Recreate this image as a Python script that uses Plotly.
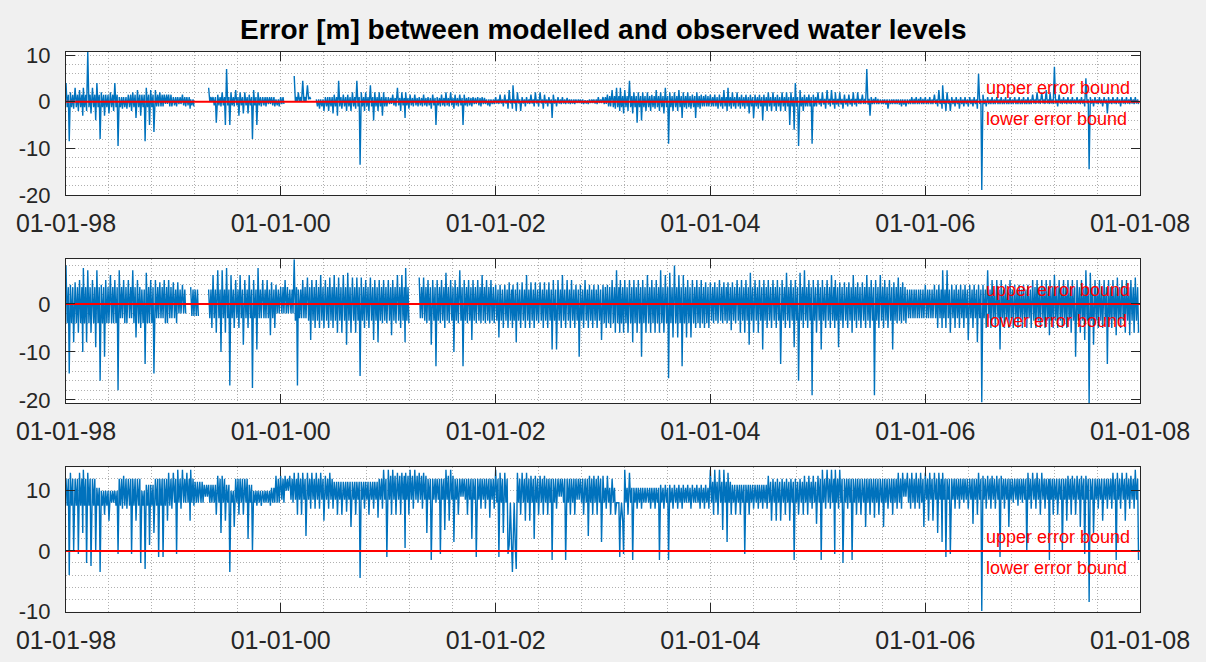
import datetime as dt
import plotly.graph_objects as go

# ---------------- data ----------------
# Each series: per half-month bin, the high and low excursion (HI / LO),
# plus per-year typical band (CORE) that the dense part of the trace fills.
YEARS = list(range(1998, 2008))

X_TICKS = ["1998-01-01", "2000-01-01", "2002-01-01", "2004-01-01", "2006-01-01", "2008-01-01"]
X_TICK_LABELS = ["01-01-98", "01-01-00", "01-01-02", "01-01-04", "01-01-06", "01-01-08"]

Y_TICKS = [-20, -10, 0, 10]
Y_TICK_LABELS = ["-20", "-10", "0", "10"]

BOUND_X = ["1998-01-01", "2008-01-01"]
BOUND_Y = [0, 0]

N = None
S1_HI = [
    4, 2, 3, 2.5, 3, 10.7, 3, 4, 2, 1.5, 2, 4, 1, 1, 1.5, 2, 2.5, 1.5, 3, 2.5, 2.5, 2, 1.5, 1.5,
    1, 1, 1.5, 1, 0.5, N, N, N, 3, 1, 1.5, 2, 7, 2, 2.5, 2, 2, 1.5, 2.5, 2, 1, 1, 1, 0.5,
    1, N, N, 5.5, 2, 4.5, 3.5, N, 0.5, 0.5, 1, 1, 1.5, 4.5, 1.5, 1.5, 2, 4.5, 2, 2, 3.5, 2, 2, 2,
    1, 1.5, 3, 2, 2, 1.5, 1.5, 1, 1.5, 1, 1.5, 1, 1.5, 2, 2, 1.5, 1.5, 1.5, 1, 1, 1, 1, 0.5, 0.5,
    1, 1.5, 1.5, 2.5, 3.5, 2, 1, 1, 1.5, 2, 2, 1.5, 1, 1.5, 1, 1, 0.8, 0.5, 0.5, 0.5, 0.3, 0.5, 0.5, 1,
    1, 1.5, 2.5, 3, 3, 2.5, 4.5, 2, 2, 2, 2, 1.5, 2.5, 2, 3, 2, 2, 2.5, 2, 2, 1.5, 2, 1.5, 1.5,
    1.5, 1.5, 1.5, 2.5, 3, 2, 2, 1.5, 1.5, 1.5, 1.5, 1.5, 1.5, 2, 2, 1.5, 2, 2, 2, 4, 2.5, 1.5, 1.5, 1.5,
    2, 2, 2.5, 2.5, 2, 2, 1.5, 1.5, 2, 2, 1.5, 7, 1, 1, 0.5, 0.5, 0.5, 0.5, 0.5, 0.5, 0.5, 1, 1, 1,
    1, 1, 1.5, 2.5, 3.5, 2, 1, 1, 1, 1, 1, 1, 6, 1.5, 1, 1, 1, 1, 1, 1, 1, 1, 1, 1,
    1.5, 2, 2, 2.5, 2, 7.5, 1.5, 1, 1, 1, 1, 1, 5, 1, 1, 1, 1, 1, 1, 1, 1, 1, 1, 1,
]
S1_LO = [
    -8.5, -1.5, -2, -3, -2, -2.5, -4, -8, -3, -2.5, -2, -9.5, -1.5, -1.5, -2, -3.5, -3, -8.5, -5, -6.5, -1, -1, -0.5, -1,
    -1, -0.5, -1, -1.5, -1, N, N, N, 0, -4.5, -1, -5, -5, -1, -3, -2.5, -2.5, -8, -5, -1, -1, -0.5, -1, -1,
    -0.5, N, N, 0, 0, 0, 0.5, N, -1.5, -2, -2, -2.5, -3, -1.5, -2, -2, -1.5, -13.5, -2, -2, -4, -2, -3, -1,
    -0.5, -1, -2, -3.5, -1.5, -1, -1, -1, -1, -1.5, -5, -1, -1, -1, -1.5, -1, -5, -1, -1, -0.5, -1, -0.5, -1, -0.5,
    -0.5, -1, -1.5, -1.5, -2, -2, -1, -0.5, -1, -1, -1.5, -1, -3.5, -1, -0.5, -0.5, -0.5, -0.5, -0.3, -0.5, -0.5, -0.3, -0.5, -0.3,
    -0.5, -1, -1.5, -2, -2.5, -2, -2.5, -4.5, -4, -2, -2, -1.5, -2, -2.5, -9, -2, -2, -3.5, -1.5, -1.5, -3.5, -1.5, -1, -1,
    -1, -1.5, -1.5, -2, -1.5, -1.5, -1.5, -1.5, -2.5, -3.5, -1.5, -4, -2, -2, -2, -2, -2, -5, -6, -9.5, -2, -1, -9, -1,
    -1, -1.5, -1, -1.5, -1, -1.5, -1, -1, -1, -0.5, -0.5, -3, -0.5, -0.5, -0.5, -1.5, -0.5, -0.5, -1, -1, -0.5, -0.5, -0.5, -0.5,
    -0.5, -0.5, -1, -1.5, -2, -2, -1, -1.5, -1, -1, -1, -1.5, -18.9, -1, -0.5, -0.5, -0.5, -0.5, -0.5, -0.5, -0.5, -0.5, -0.5, -0.5,
    -0.5, -0.5, -0.5, -0.5, -0.5, -1, -0.5, -0.5, -0.5, -0.5, -0.5, -1, -14.5, -1, -0.5, -1, -2.5, -0.5, -0.5, -1, -0.5, -0.5, -0.5, -0.5,
]
S1_CORE_HI = [1.5, 1.0, 1.0, 0.8, 0.5, 1.2, 1.0, 0.6, 0.5, 0.5]
S1_CORE_LO = [-1.2, -0.8, -1.0, -0.8, -0.4, -1.2, -1.0, -0.6, -0.5, -0.4]

S2_HI = [
    8, 4, 4.5, 5, 7.5, 7, 5, 7, 4, 5, 6, 5, 7, 5, 5, 7, 5, 3, 6.5, 5, 5, 4.5, 5, 5,
    4.5, 4.5, 4, N, 3.5, 3, N, N, 3, 6, 7, 7, 7.5, 6, 5, 6, 5, 6, 5, 7.5, 5, 5, 4.5, 4,
    3.5, 5, 3, 9.3, 3, 5, 5.5, 5, 5, 6, 5, 5.5, 6, 5.5, 6, 6.5, 5.5, 5.5, 5.5, 5, 5.5, 5, 5, 5,
    5, 5, 6, 6, 7.5, N, N, 5.5, 5.5, 5, 5, 5, 5, 6.5, 5, 5, 7, 5, 5, 5, 5, 6, 5, 5,
    4, 4, 4, 4.5, 4, 4.5, 4.5, 6, 4.5, 4.5, 4.5, 4.5, 4.5, 5, 5, 6, 5, 5, 4, 4, 5, 4, 4, 4,
    4, 4, 5, 7, 5, 5, 5, 5, 5, 5, 6, 5, 5, 7, 6, 6.5, 8, 6, 6, 5, 5, 5, 5, 4.5,
    4.5, 4.5, 5, 4.5, 4.5, 4.5, 5, 5, 5, 6.5, 5, 5, 5, 5, 5, 5, 5, 6.5, 5, 5, 6.5, 7, 5, 5,
    5, 5, 5, 6, 5, 4.5, 4.5, 4.5, 6, 4.5, 4.5, 6, 5, 5, 6, 5, 5, 4.5, 5.5, 4.5, 3, 3, 3, 3,
    4, 3, 4, 4, 7, 7, 4, 4, 4, 4, 4, 4, 4, 4, 7, 5, 5, 5, 4, 5, 4, 4, 4, 4,
    5, 5, 5, 5, 5, 6, 5, 5, 5, 5, 5, 5, 7, 6.5, 5, 5, 5, 5, 5, 5.5, 5, 5, 5, 5.5,
]
S2_LO = [
    -14.5, -8, -6, -10, -8, -6, -9, -16, -11, -4, -4, -18, -3, -4, -3, -7, -5, -12.5, -4, -14.5, -3, -3, -4, -3,
    -4, -2, -2, N, -2.5, -2.5, N, N, -5, -6, -10, -6, -17, -5, -5, -8.5, -5, -17.5, -9.5, -3, -3, -6.5, -5, -2,
    -2, -2, -2, -17, -3, -3, -7.5, -5, -5, -5, -5, -5, -6, -6, -8.5, -6, -6, -15, -5, -5, -7.5, -8, -4, -4,
    -6.5, -4, -5, -8, -4, N, N, -3, -4, -8.5, -13, -4, -5, -4, -10, -4, -13, -4, -7.5, -4, -4, -4, -4, -4,
    -7, -5, -5, -5, -8, -5, -5, -5, -5, -4, -5, -5, -9.5, -9.5, -5, -5, -5, -5, -11, -5, -5, -5, -5, -7.5,
    -5, -5, -6, -6, -6, -6, -8, -6, -11, -6, -6, -6, -6, -6, -15.5, -7, -7, -13, -7, -7, -5, -5, -5, -5,
    -4, -4, -4, -4, -5.5, -4, -6, -6, -8.5, -6, -6, -9.5, -5, -5, -5, -12.5, -5, -5, -9, -16, -5, -5, -19, -6,
    -9.5, -5, -5, -5, -9, -5, -5, -6, -5, -5, -5, -5, -19, -5, -5, -5, -9.5, -4, -4, -4, -3, -3, -3, -3,
    -3, -3, -5, -5, -5, -6, -5, -5, -5, -7.5, -5, -8, -20.5, -5, -5, -5, -9.5, -5, -5, -5, -5, -5, -5, -5,
    -5, -5, -5, -6.5, -5, -5, -5, -5, -6, -11, -6, -7.5, -21, -8.5, -5, -5, -12.5, -5, -6.5, -5, -6, -6.5, -6, -6,
]
S2_CORE_HI = [3.5, 3.0, 3.5, 3.5, 3.0, 3.5, 3.5, 3.5, 3.0, 3.5]
S2_CORE_LO = [-4.0, -3.0, -3.5, -3.5, -3.5, -4.0, -3.5, -3.5, -3.0, -3.5]

S3_HI = [
    12, 13, 12, 13, 13.5, 13, 12, 10.5, 10, 10, 10, 10, 12, 12.5, 12, 12, 12, 10, 11, 11, 12, 12, 12, 13,
    13, 13.5, 13.5, 13, 13.5, 11.5, 11.5, 11, 11, 11, 12.5, 12.5, 11, 10, 12, 12, 12, 11, 10, 10, 10, 10, 10.5, 12.5,
    12.5, 12.5, 12.5, 13, 13, 13, 13, 13, 13, 13, 12.5, 13, 11.5, 11.5, 11.5, 11.5, 11.5, 11.5, 11.5, 11.5, 11.5, 11.5, 12, 13.5,
    13.5, 13.5, 13, 13, 13, 13.5, 13.5, 13, 13, 12, 12, 12, 12, 13.5, 13.5, 12, 12, 12, 12, 12, 12, 12, 12, 12,
    13.5, 13, 13, 1, 0.5, 13, 13, 13, 12.5, 12.5, 12.5, 12.5, 12, 12, 12, 12, 12, 12, 12, 12, 12, 12.5, 12.5, 12.5,
    12.5, 12.5, 12, 8, 5, 13.5, 13, 10.5, 10.5, 10.5, 10.5, 10.5, 10.5, 11, 11, 11, 11, 11, 11, 11, 11, 11, 11, 11,
    13.5, 13.5, 13.5, 13.5, 13, 11, 11, 11, 11, 11, 11, 11, 11, 12.5, 12, 12, 12, 12, 12, 12, 12, 12.5, 12.5, 12.5,
    12.5, 13.5, 13.5, 13.5, 13.5, 13.5, 12, 12, 12, 12, 12, 12, 12, 12, 12, 12, 12, 12, 13, 13, 13, 13, 13, 13,
    13, 13, 13, 13, 13, 12, 12, 12, 12, 12, 12, 12, 13, 12.5, 12.5, 12.5, 12.5, 12.5, 12, 12, 12, 12, 12, 13,
    13, 13, 13, 12, 12, 12, 12, 12, 12.5, 12.5, 12.5, 12.5, 12.5, 12, 12, 12, 12, 12, 13, 13, 13, 13, 12.5, 13.5,
]
S3_LO = [
    -4, 0, -0.5, 3, -2, -2.5, 0, -3.5, 6, 5, 8, -0.5, 7, 7, -0.5, 5, -2, -3, 1, 3, -1, -1, 5, 7,
    -0.5, 7, 8, 5, 7.5, 8, 8, 9, 8, 6, 3, 5, -3.5, 4, 6, 6, 2, 0, 7.5, 7.5, 8, 7.5, 8, 8,
    8, 10, 8, 6, 6, 2.5, 7, 7, 7, 5, 7, 7, 6, 6, 6.5, 4, 6, -4.5, 7, 6, 7, 5.5, 7, -1,
    6, 6, 6, 0.5, 6, 7, 8, 7, 3, -1.5, 8, -0.5, 3.5, 5, 1.5, 6, 9, 6, 2, -1, 7, 7, 5.5, 7,
    -1, 3, -0.5, -3.5, -3, 6, 5, 5, 2, 6, 6, 6, -1.5, 7, 9, -1.5, 6, 6, 8.5, 6, 2.5, 6, 6, 1.5,
    7, 6, 6, -1, -0.5, 6, -1.5, 7, 7, 8, 7, 7, -1.5, 7, -1.5, 7, 7, 7, 8, 7, 8, 7, 7, 7,
    6, 6, 3.5, 1.5, 6, 6, 6, -0.5, 6, 7, 7, 7, 7, 5, 5, 5, 6, 5, -1.5, 6, 6, 6, 7, 4.5,
    -1.5, 7, 7, -0.5, 7, -2, 7, -1.5, 6, 6, 4, 6, 5.5, 6, 4, 7, 6, 7, 7, 9, 7, 7, 7, 4,
    5, 5, 3, 1.5, -1, -0.5, 7, 7, 8, 7, 4.5, 6, -10, 7, 7, 7, -1, 7, 4, 8, 7.5, 8, 0, 7,
    7, 6, 7, -1.5, 6, 6, 0, 5, 6, 6, 4, -0.5, -8.5, 3, 7, 5, 7, 7, -1.5, 7, 5, 7, 7, -1.5,
]
S3_CORE_HI = [12.0, 12.0, 12.0, 12.5, 12.0, 10.5, 11.5, 12.0, 12.0, 12.0]
S3_CORE_LO = [7.5, 8.0, 8.5, 8.5, 8.0, 8.0, 8.0, 8.0, 8.5, 8.5]

TITLE = "Error [m] between modelled and observed water levels"
UPPER_TXT = "upper error bound"
LOWER_TXT = "lower error bound"
TXT_X = "2006-07-20"

# ------------- sample dates: 4 samples per half-month bin -------------
OFFS = [0, 4, 8, 11]
XS = []
for yr in YEARS:
    for k in range(24):
        d = dt.date(yr, k // 2 + 1, 1 if k % 2 == 0 else 16)
        XS.append([(d + dt.timedelta(days=o)).isoformat() for o in OFFS])


def build(hi, lo, core_hi, core_lo):
    xs, ys = [], []
    for i, (xq, h, l) in enumerate(zip(XS, hi, lo)):
        yi = i // 24
        if h is None:
            xs += xq
            ys += [None] * 4
            continue
        ch = min(core_hi[yi], h)
        cl = max(core_lo[yi], l)
        xs += xq
        ys += [h, cl, ch, l]
    return xs, ys


BLUE = "#0072BD"
AX = "#262626"
GRID = "#b0b0b0"
FONT = "Liberation Sans, Arial, sans-serif"

fig = go.Figure()

series = [(S1_HI, S1_LO, S1_CORE_HI, S1_CORE_LO),
          (S2_HI, S2_LO, S2_CORE_HI, S2_CORE_LO),
          (S3_HI, S3_LO, S3_CORE_HI, S3_CORE_LO)]
XD = [66 / 1206, 1140 / 1206]
YD = [
    [1 - 195 / 662, 1 - 52 / 662],
    [1 - 403.3 / 662, 1 - 259.3 / 662],
    [1 - 611.7 / 662, 1 - 467.3 / 662],
]
YR = [[-20, 10.65], [-20.7, 9.3], [-10.1, 13.9]]

for i, s in enumerate(series):
    n = "" if i == 0 else str(i + 1)
    xs, ys = build(*s)
    fig.add_trace(go.Scatter(x=xs, y=ys, mode="lines", xaxis="x" + n, yaxis="y" + n,
                             line=dict(color=BLUE, width=1.4), connectgaps=False,
                             showlegend=False, hoverinfo="skip"))
    fig.add_trace(go.Scatter(x=BOUND_X, y=BOUND_Y, mode="lines", xaxis="x" + n, yaxis="y" + n,
                             line=dict(color="#ff0000", width=2), showlegend=False,
                             hoverinfo="skip"))

    xa = dict(domain=XD, anchor="y" + n, type="date", automargin=False,
              range=["1998-01-01", "2008-01-01"],
              tickmode="array", tickvals=X_TICKS, ticktext=X_TICK_LABELS,
              ticks="inside", ticklen=9, tickcolor=AX, tickwidth=1,
              showline=True, linecolor=AX, linewidth=1, mirror="ticks",
              showgrid=True, gridcolor=GRID, griddash="1px,2px", gridwidth=1,
              minor=dict(tickmode="linear", tick0="1998-01-01", dtick=146.1 * 86400000,
                         showgrid=True, gridcolor=GRID, griddash="1px,2px", gridwidth=1, ticks=""),
              tickfont=dict(family=FONT, size=25, color=AX),
              ticklabelstandoff=6, zeroline=False)
    ya = dict(domain=YD[i], anchor="x" + n, range=YR[i], automargin=False,
              tickmode="array", tickvals=Y_TICKS, ticktext=Y_TICK_LABELS,
              ticks="inside", ticklen=9, tickcolor=AX, tickwidth=1,
              showline=True, linecolor=AX, linewidth=1, mirror="ticks",
              showgrid=True, gridcolor=GRID, griddash="1px,2px", gridwidth=1,
              minor=dict(tickmode="linear", tick0=0, dtick=2,
                         showgrid=True, gridcolor=GRID, griddash="1px,2px", gridwidth=1, ticks=""),
              tickfont=dict(family=FONT, size=22, color=AX),
              ticklabelstandoff=10, zeroline=False)
    fig.layout["xaxis" + n] = xa
    fig.layout["yaxis" + n] = ya

    fig.add_annotation(x=TXT_X, y=0, xref="x" + n, yref="y" + n, text=UPPER_TXT,
                       showarrow=False, xanchor="left", yanchor="middle", yshift=14,
                       font=dict(family=FONT, size=18, color="#ff0000"))
    fig.add_annotation(x=TXT_X, y=0, xref="x" + n, yref="y" + n, text=LOWER_TXT,
                       showarrow=False, xanchor="left", yanchor="middle", yshift=-17,
                       font=dict(family=FONT, size=18, color="#ff0000"))

fig.add_annotation(x=603 / 1206, y=1 - 30 / 662, xref="paper", yref="paper", text=TITLE,
                   showarrow=False, xanchor="center", yanchor="middle",
                   font=dict(family=FONT, size=28, color="#000000", weight="bold"))

fig.update_layout(width=1206, height=662, margin=dict(l=0, r=0, t=0, b=0),
                  paper_bgcolor="#f0f0f0", plot_bgcolor="#ffffff")

fig.write_html("out.html", config={"displayModeBar": False},
               post_script="document.body.style.margin='0';document.body.style.overflow='hidden';")
